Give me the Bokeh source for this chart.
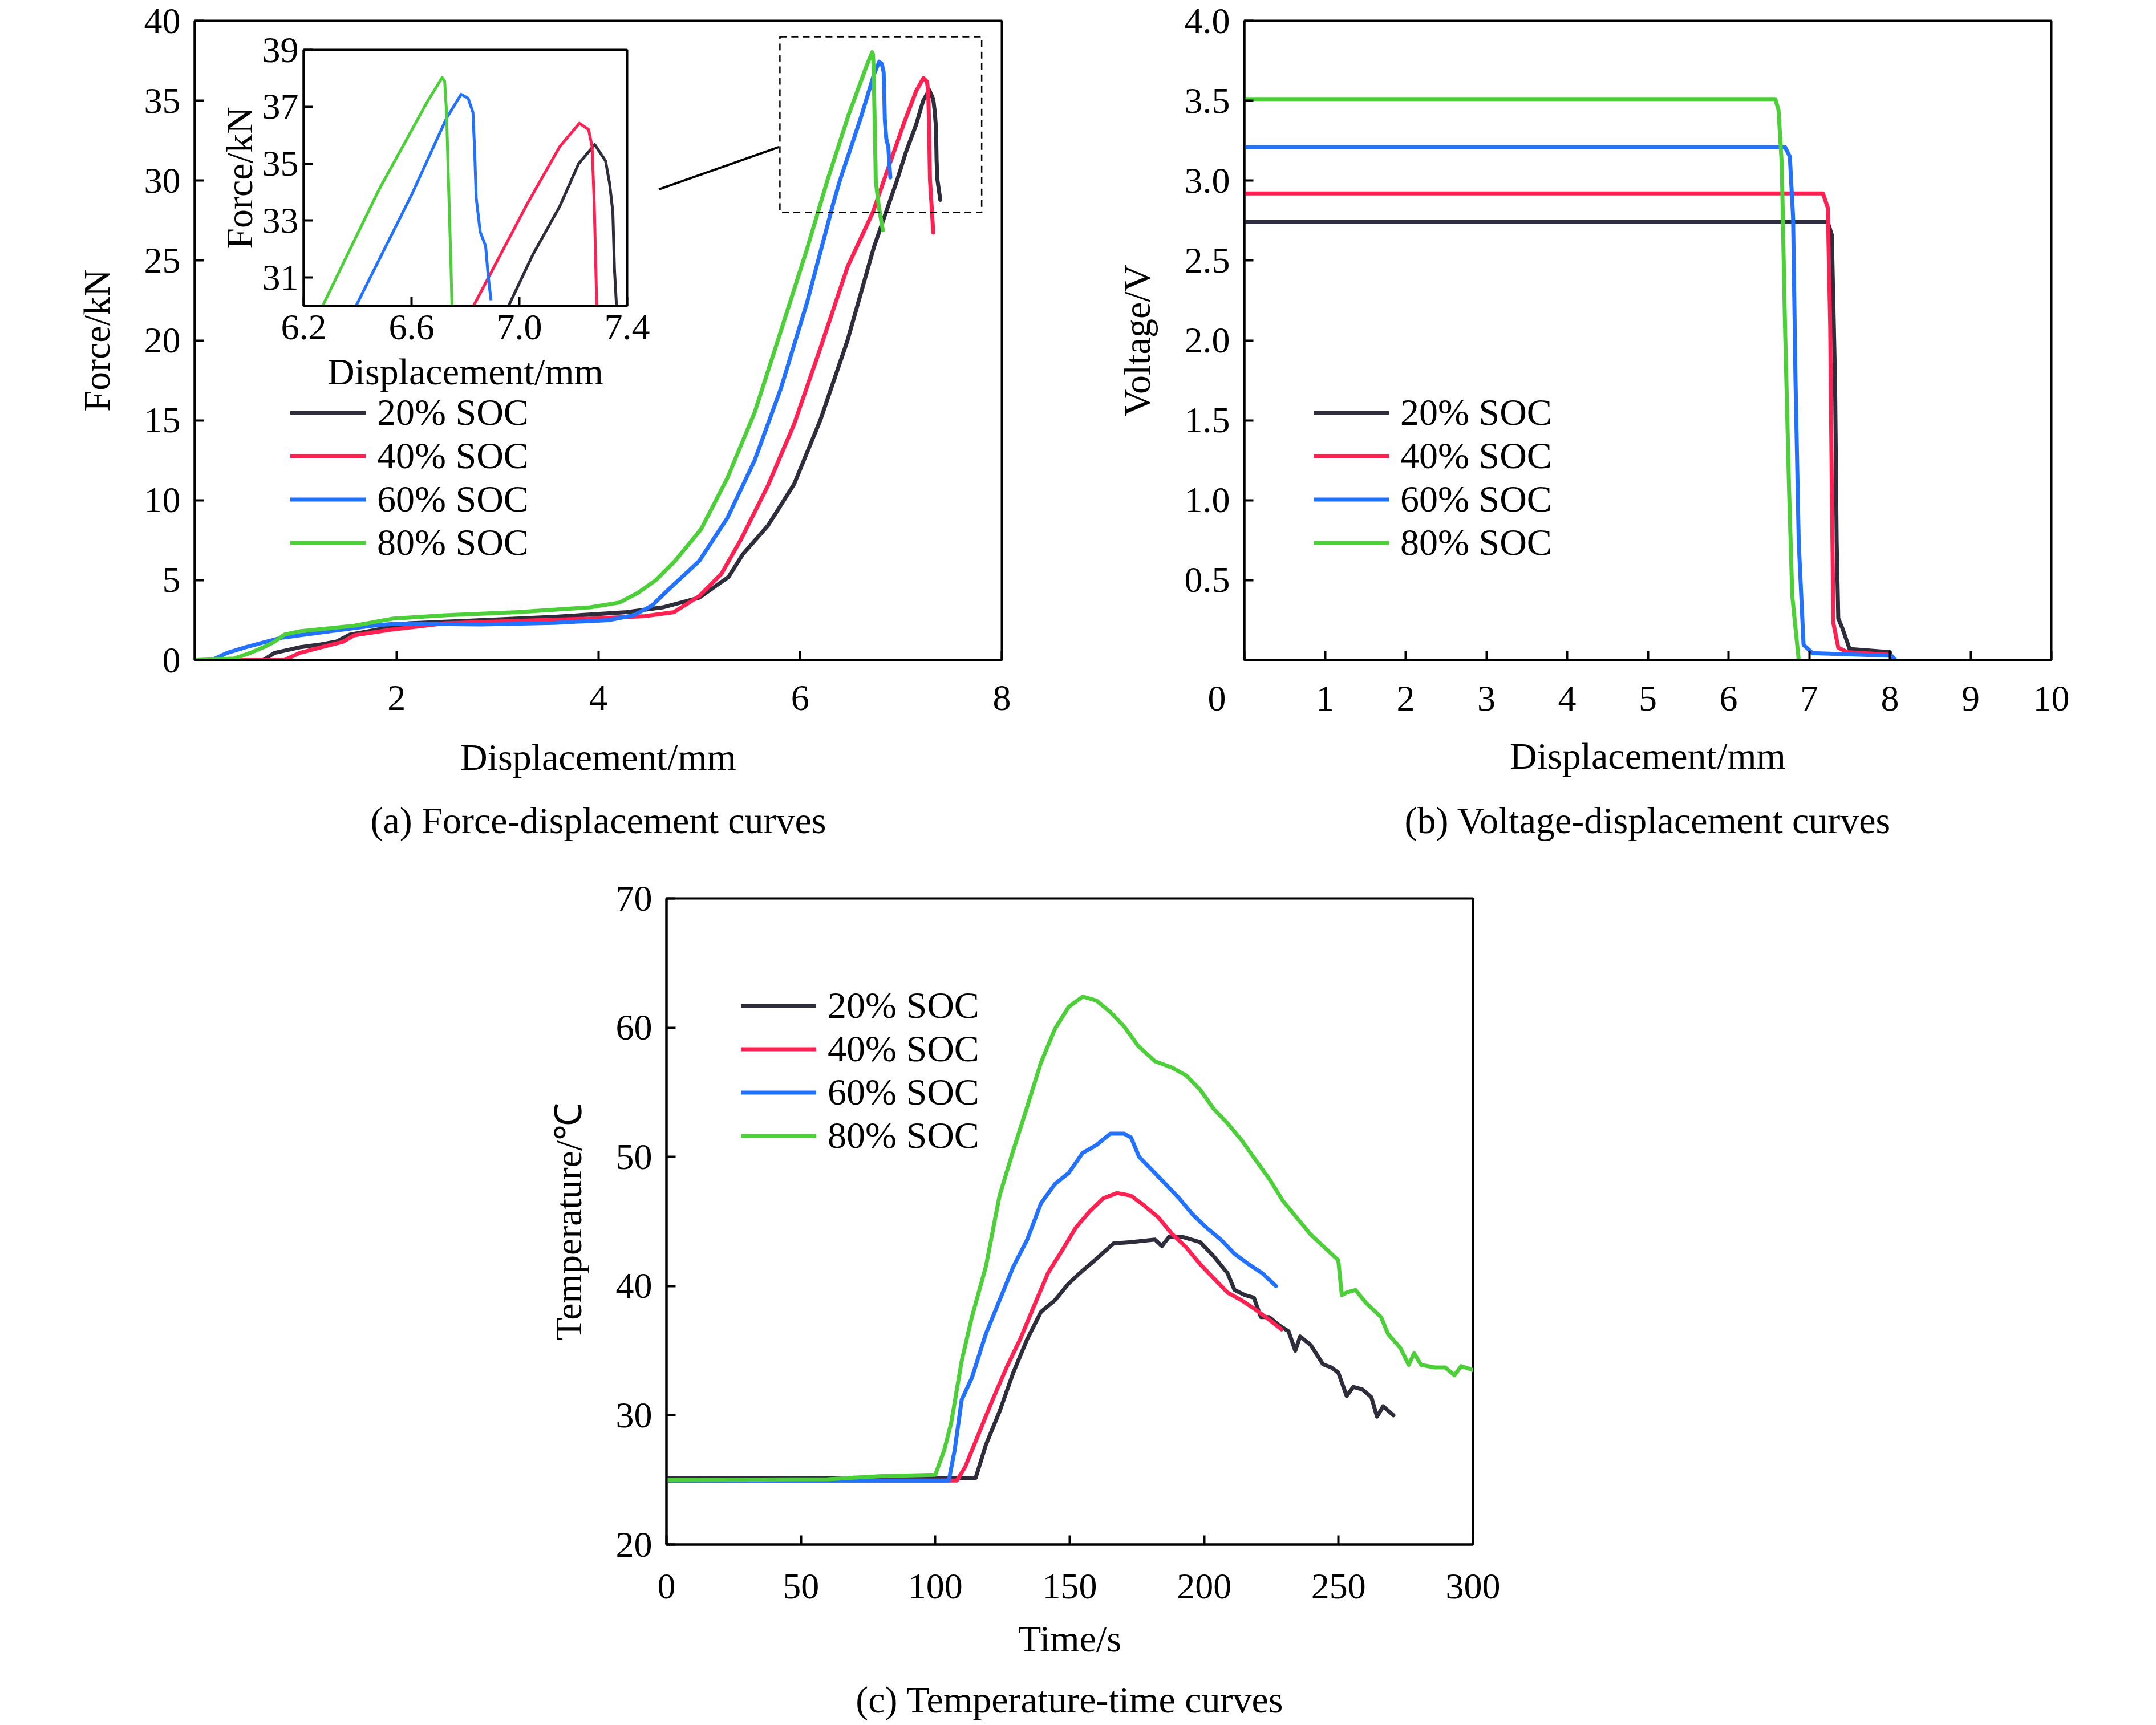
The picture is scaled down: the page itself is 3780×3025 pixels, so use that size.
from bokeh.plotting import figure
from bokeh.layouts import row, column
from bokeh.models import (Legend, LegendItem, Title, FixedTicker, Range1d,
                          PrintfTickFormatter)
from bokeh.embed import file_html
from bokeh.resources import INLINE

FONT = "Liberation Serif"
TICK_FS = "64px"
LAB_FS = "66px"

soc_labels = ["20% SOC", "40% SOC", "60% SOC", "80% SOC"]
colors = ["#2d2d3b", "#ff2152", "#2271ff", "#4ccf38"]

# ---------------- (a) force - displacement ----------------
fd_x_20 = [0.0, 0.68, 0.79, 1.04, 1.25, 1.40, 1.54, 1.76, 2.12, 2.84, 3.56, 4.28, 4.64, 5.0, 5.29,
           5.43, 5.68, 5.94, 6.20, 6.47, 6.73, 6.85, 6.96, 7.05, 7.15, 7.22, 7.28, 7.32, 7.335,
           7.347, 7.353, 7.36, 7.39]
fd_y_20 = [0.0, 0.0, 0.45, 0.8, 0.98, 1.15, 1.6, 1.85, 2.3, 2.5, 2.7, 3.0, 3.3, 3.9, 5.2,
           6.6, 8.4, 11.0, 15.0, 20.0, 25.8, 28.0, 30.0, 31.8, 33.5, 35.0, 35.67, 35.1, 34.3,
           33.3, 31.3, 30.1, 28.8]
fd_x_40 = [0.0, 0.89, 1.04, 1.25, 1.47, 1.58, 1.94, 2.48, 3.20, 3.92, 4.46, 4.75, 5.0, 5.22,
           5.41, 5.68, 5.94, 6.20, 6.47, 6.72, 6.83, 7.03, 7.15, 7.223, 7.257, 7.27, 7.278,
           7.287, 7.32]
fd_y_40 = [0.0, 0.0, 0.45, 0.8, 1.15, 1.55, 1.9, 2.3, 2.45, 2.6, 2.75, 3.0, 4.0, 5.4,
           7.5, 10.9, 14.75, 19.5, 24.6, 28.0, 30.0, 33.6, 35.6, 36.42, 36.2, 35.6, 33.6,
           30.1, 26.75]
fd_x_60 = [0.0, 0.17, 0.32, 0.50, 0.68, 0.86, 1.04, 1.40, 1.76, 1.97, 2.12, 2.84, 3.56, 4.10,
           4.35, 4.53, 4.71, 5.0, 5.28, 5.55, 5.81, 6.07, 6.33, 6.394, 6.60, 6.73, 6.784, 6.81,
           6.828, 6.834, 6.84, 6.855, 6.875, 6.885, 6.895]
fd_y_60 = [0.0, 0.0, 0.45, 0.8, 1.1, 1.4, 1.55, 1.85, 2.15, 2.27, 2.27, 2.23, 2.33, 2.5,
           2.8, 3.4, 4.5, 6.2, 8.9, 12.5, 17.0, 22.4, 28.6, 30.0, 33.9, 36.6, 37.44, 37.3,
           36.8, 35.5, 33.8, 32.6, 32.1, 31.0, 30.2]
fd_x_80 = [0.0, 0.39, 0.55, 0.68, 0.79, 0.89, 1.04, 1.58, 1.97, 2.48, 3.20, 3.92, 4.21, 4.39,
           4.57, 4.76, 5.02, 5.28, 5.55, 5.81, 6.07, 6.27, 6.48, 6.66, 6.714, 6.723, 6.73,
           6.737, 6.747, 6.75, 6.78, 6.82]
fd_y_80 = [0.0, 0.1, 0.45, 0.8, 1.15, 1.6, 1.8, 2.15, 2.6, 2.8, 3.0, 3.3, 3.6, 4.2,
           5.0, 6.2, 8.2, 11.4, 15.5, 20.6, 25.75, 30.0, 34.1, 37.2, 38.03, 37.9, 36.8,
           34.4, 31.2, 30.0, 28.4, 26.9]
fd_x_ticks = [2, 4, 6, 8]
fd_y_ticks = [0, 5, 10, 15, 20, 25, 30, 35, 40]
inset_x_ticks = [6.2, 6.6, 7.0, 7.4]
inset_y_ticks = [31, 33, 35, 37, 39]
zoom_box_x = [5.8, 7.8]
zoom_box_y = [28.0, 39.0]
connector_x = [4.60, 5.79]
connector_y = [29.45, 32.1]

# ---------------- (b) voltage - displacement ----------------
v_x_20 = [0.0, 7.23, 7.28, 7.32, 7.34, 7.36, 7.41, 7.50, 8.0, 8.02]
v_y_20 = [2.74, 2.74, 2.66, 1.75, 0.74, 0.26, 0.20, 0.07, 0.05, 0.0]
v_x_40 = [0.0, 7.17, 7.23, 7.26, 7.28, 7.30, 7.36, 7.47, 8.0]
v_y_40 = [2.92, 2.92, 2.83, 2.09, 1.07, 0.23, 0.078, 0.05, 0.034]
v_x_60 = [0.0, 6.70, 6.76, 6.80, 6.83, 6.87, 6.93, 7.04, 8.02, 8.07]
v_y_60 = [3.21, 3.21, 3.15, 2.77, 1.75, 0.74, 0.095, 0.044, 0.027, 0.0]
v_x_80 = [0.0, 6.58, 6.62, 6.66, 6.70, 6.75, 6.79, 6.87]
v_y_80 = [3.51, 3.51, 3.44, 3.10, 2.09, 1.07, 0.40, 0.0]
v_x_ticks = [0, 1, 2, 3, 4, 5, 6, 7, 8, 9, 10]
v_y_ticks = [0.5, 1.0, 1.5, 2.0, 2.5, 3.0, 3.5, 4.0]

# ---------------- (c) temperature - time ----------------
t_20 = [0, 115, 118.8, 123.9, 129, 134.2, 139.3, 144.5, 149.6, 154.8, 159.9, 166.3, 172.8, 181.7,
        184.3, 186.9, 192, 198.5, 203.6, 208.7, 211.3, 215.2, 218.5, 221.1, 224.2, 228, 231.4,
        233.9, 235.7, 239.6, 244.2, 247.3, 249.9, 253, 255.5, 258.9, 262.2, 264.3, 266.6, 270.4]
T_20 = [25.15, 25.15, 27.7, 30.3, 33.3, 35.9, 38.0, 38.9, 40.2, 41.2, 42.1, 43.3, 43.4, 43.6,
        43.1, 43.8, 43.8, 43.4, 42.3, 41.0, 39.7, 39.3, 39.1, 37.6, 37.6, 36.95, 36.5,
        35.0, 36.1, 35.45, 33.95, 33.7, 33.3, 31.5, 32.2, 32.0, 31.4, 29.9, 30.7, 30.0]
t_40 = [0, 108, 111.1, 116.2, 121.3, 126.5, 131.6, 136.8, 141.9, 147, 152.2, 157.3, 162.5, 167.6,
        172.8, 177.9, 183, 188.2, 193.3, 198.5, 203.6, 208.7, 213.9, 219, 224.2, 228.8]
T_40 = [24.95, 24.95, 26.0, 28.6, 31.2, 33.7, 35.9, 38.5, 41.0, 42.7, 44.5, 45.75, 46.8, 47.2,
        47.0, 46.2, 45.3, 44.0, 43.0, 41.7, 40.6, 39.5, 38.9, 38.2, 37.4, 36.65]
t_60 = [0, 105, 107.2, 109.8, 113.6, 118.8, 123.9, 129, 134.2, 139.3, 144.5, 149.6, 154.8, 159.9,
        165.1, 170.2, 172.8, 175.8, 180.5, 185.6, 190.7, 195.9, 201, 206.2, 211.3, 216.5, 221.6,
        226.7]
T_60 = [24.95, 24.95, 27.3, 31.2, 32.9, 36.3, 38.9, 41.5, 43.6, 46.4, 47.9, 48.75, 50.3, 50.9,
        51.8, 51.8, 51.5, 50.0, 49.0, 47.9, 46.8, 45.5, 44.5, 43.6, 42.5, 41.7, 41.0, 40.0]
t_80 = [0, 60, 80, 100, 103.3, 105.9, 109.8, 113.6, 118.8, 123.9, 129, 134.2, 139.3, 144.5, 149.6,
        154.8, 159.9, 165.1, 170.2, 175.4, 181.7, 188.2, 193.3, 198.5, 203.6, 208.7, 213.9, 219,
        224.2, 229.3, 234.4, 239.6, 244.7, 249.9, 251.2, 253, 256.3, 260.2, 265.8, 268.4, 273,
        276.1, 278.1, 280.7, 285.9, 289.7, 293.1, 295.6, 300]
T_80 = [25.0, 25.05, 25.3, 25.4, 27.3, 29.4, 34.2, 37.6, 41.5, 47.0, 50.5, 53.9, 57.3, 59.9, 61.6,
        62.4, 62.1, 61.2, 60.1, 58.6, 57.4, 56.9, 56.3, 55.2, 53.7, 52.6, 51.3, 49.8,
        48.3, 46.6, 45.3, 44.0, 43.0, 42.0, 39.3, 39.5, 39.7, 38.7, 37.6, 36.3, 35.2,
        33.9, 34.8, 33.9, 33.7, 33.7, 33.1, 33.8, 33.5]
t_ticks = [0, 50, 100, 150, 200, 250, 300]
T_ticks = [20, 30, 40, 50, 60, 70]

captions = ["(a) Force-displacement curves", "(b) Voltage-displacement curves",
            "(c) Temperature-time curves"]


def make_fig(left, top, right, bottom, fw, fh, xr, yr, **kw):
    p = figure(frame_width=fw, frame_height=fh, x_range=Range1d(*xr), y_range=Range1d(*yr),
               output_backend="svg", toolbar_location=None, title=None,
               min_border_left=left, min_border_top=top, min_border_right=right,
               min_border_bottom=bottom, **kw)
    p.border_fill_alpha = 0
    p.background_fill_color = "white"
    p.xgrid.visible = False
    p.ygrid.visible = False
    p.outline_line_color = "black"
    p.outline_line_width = 4
    p.outline_line_alpha = 1
    for ax in list(p.xaxis) + list(p.yaxis):
        ax.axis_line_width = 4
        ax.axis_line_color = "black"
        ax.major_tick_line_width = 4
        ax.major_tick_line_color = "black"
        ax.major_tick_in = 16
        ax.major_tick_out = 0
        ax.minor_tick_line_color = None
        ax.major_label_text_font = FONT
        ax.major_label_text_font_size = TICK_FS
        ax.major_label_text_color = "black"
        ax.axis_label_text_font = FONT
        ax.axis_label_text_font_size = LAB_FS
        ax.axis_label_text_font_style = "normal"
        ax.axis_label_text_color = "black"
    p.xaxis.major_label_standoff = 45
    p.xaxis.axis_label_standoff = 43
    p.yaxis.major_label_standoff = 25
    p.yaxis.axis_label_standoff = 44
    return p


def add_legend(p, renderers, loc):
    items = [LegendItem(label=l, renderers=[r]) for l, r in zip(soc_labels, renderers)]
    leg = Legend(items=items, location=loc, border_line_color=None, background_fill_alpha=0,
                 glyph_width=132, glyph_height=75, label_height=75, label_standoff=20,
                 spacing=0, padding=0, margin=0, label_text_font=FONT,
                 label_text_font_size=LAB_FS, label_text_baseline="middle",
                 label_text_color="black")
    p.add_layout(leg)


def add_caption(p, text, standoff):
    p.add_layout(Title(text=text, align="center", text_font=FONT, text_font_size=LAB_FS,
                       text_font_style="normal", text_color="black", standoff=standoff),
                 "below")


LW = 7

# (a)
pa = make_fig(341, 36, 125, 378, 1415, 1121, (0, 8), (0, 40))
pa.xaxis.ticker = FixedTicker(ticks=fd_x_ticks)
pa.yaxis.ticker = FixedTicker(ticks=fd_y_ticks)
pa.xaxis.axis_label = "Displacement/mm"
pa.yaxis.axis_label = "Force/kN"
fd_series = [(fd_x_20, fd_y_20), (fd_x_40, fd_y_40), (fd_x_60, fd_y_60), (fd_x_80, fd_y_80)]
ra = [pa.line(x, y, line_color=c, line_width=LW, line_join="round", line_cap="round")
      for (x, y), c in zip(fd_series, colors)]
pa.quad(left=[zoom_box_x[0]], right=[zoom_box_x[1]], bottom=[zoom_box_y[0]], top=[zoom_box_y[1]],
        fill_alpha=0, line_color="black", line_width=2.5, line_dash="12 8")
pa.line(connector_x, connector_y, line_color="black", line_width=4)
add_legend(pa, ra, (168, 168))
add_caption(pa, captions[0], 66)

# (b)
pb = make_fig(300, 36, 60, 378, 1415, 1121, (0, 10), (0, 4))
pb.xaxis.ticker = FixedTicker(ticks=v_x_ticks)
pb.xaxis.major_label_overrides = {0: "0" + "\u00a0" * 6}
pb.xaxis.major_label_standoff = 31
pb.xaxis.axis_label_standoff = 26
pb.yaxis.ticker = FixedTicker(ticks=v_y_ticks)
pb.yaxis.formatter = PrintfTickFormatter(format="%.1f")
pb.xaxis.axis_label = "Displacement/mm"
pb.yaxis.axis_label = "Voltage/V"
v_series = [(v_x_20, v_y_20), (v_x_40, v_y_40), (v_x_60, v_y_60), (v_x_80, v_y_80)]
rb = [pb.line(x, y, line_color=c, line_width=LW, line_join="round")
      for (x, y), c in zip(v_series, colors)]
add_legend(pb, rb, (122, 168))
add_caption(pb, captions[1], 71)

# inset, floated over (a)
IN_L, IN_T = 170, 10
pi = make_fig(IN_L, IN_T, 40, 230, 567, 449, (6.2, 7.4), (30, 39),
              styles={"position": "absolute", "left": "%dpx" % (532 - IN_L),
                      "top": "%dpx" % (61 - IN_T), "z-index": "10"})
pi.xaxis.ticker = FixedTicker(ticks=inset_x_ticks)
pi.yaxis.ticker = FixedTicker(ticks=inset_y_ticks)
pi.xaxis.formatter = PrintfTickFormatter(format="%.1f")
pi.xaxis.axis_label = "Displacement/mm"
pi.yaxis.axis_label = "Force/kN"
pi.xaxis.major_label_standoff = 16
pi.xaxis.axis_label_standoff = 17
pi.yaxis.major_label_standoff = 9
pi.yaxis.axis_label_standoff = 1
for (x, y), c in zip(fd_series, colors):
    pi.line(x, y, line_color=c, line_width=5, line_join="round")

# (c)
pc = make_fig(1168, 40, 60, 0, 1414, 1133, (0, 300), (20, 70))
pc.xaxis.ticker = FixedTicker(ticks=t_ticks)
pc.yaxis.ticker = FixedTicker(ticks=T_ticks)
pc.xaxis.axis_label = "Time/s"
pc.yaxis.axis_label = "Temperature/℃"
pc.xaxis.major_label_standoff = 52
pc.xaxis.axis_label_standoff = 31
t_series = [(t_20, T_20), (t_40, T_40), (t_60, T_60), (t_80, T_80)]
rc = [pc.line(x, y, line_color=c, line_width=LW, line_join="round", line_cap="round")
      for (x, y), c in zip(t_series, colors)]
add_legend(pc, rc, (131, 679))
add_caption(pc, captions[2], 59)

top_row = row(pa, pb, pi)
root = column(top_row, pc)

open("out.html", "w").write(file_html(root, INLINE))
